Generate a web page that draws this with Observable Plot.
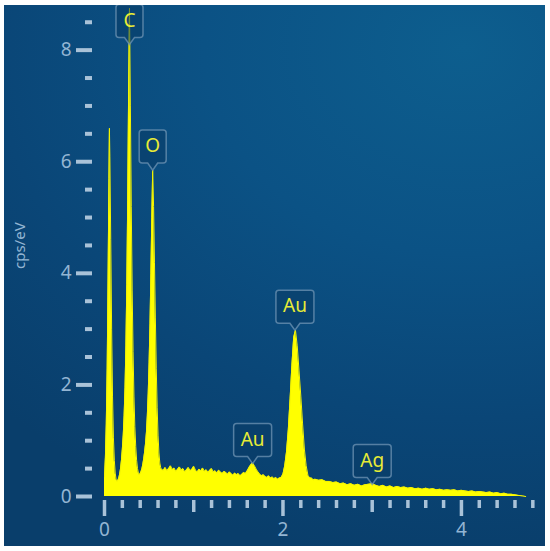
<!DOCTYPE html>
<html><head><meta charset="utf-8">
<script src="https://cdn.jsdelivr.net/npm/d3@7"></script>
<script src="https://cdn.jsdelivr.net/npm/@observablehq/plot@0.6"></script>
<style>
body{margin:0;background:#fff;}
#chart{position:absolute;left:4px;top:5px;}
</style></head><body><div id="chart"></div>
<script>
// Spectrum: energy (keV) and counts (cps/eV)
const energy = [
0,0.01,0.02,0.03,0.04,0.05,0.055,0.06,0.07,0.08,0.09,0.10,0.11,0.12,0.13,0.14,0.15,0.16,0.17,0.18,0.19,0.20,0.21,0.22,0.23,0.24,0.25,0.26,0.27,0.28,
0.29,0.30,0.31,0.32,0.33,0.34,0.35,0.36,0.37,0.38,0.39,0.40,0.41,0.42,0.43,0.44,0.45,0.46,0.47,0.48,0.49,0.50,0.51,0.52,0.53,0.54,0.55,0.56,0.57,0.58,0.59,0.60,0.61,0.62,0.63,0.64,
0.66,0.68,0.70,0.72,0.74,0.76,0.78,0.80,0.82,0.84,0.86,0.88,0.90,0.92,0.94,0.96,0.98,1.00,1.02,1.04,1.06,1.08,1.10,1.12,1.14,1.16,1.18,1.20,1.22,1.24,1.26,1.28,1.30,1.32,1.34,1.36,1.38,1.40,1.42,1.44,1.46,1.48,1.50,1.52,1.54,1.56,1.58,1.60,1.62,1.64,1.66,1.68,1.70,1.72,1.74,1.76,1.78,1.80,1.82,1.84,1.86,1.88,1.90,1.92,1.94,
1.96,1.98,2.00,2.02,2.04,2.06,2.08,2.10,2.12,2.14,2.16,2.18,2.20,2.22,2.24,2.26,2.28,2.30,
2.32,2.34,2.36,
2.40,2.44,2.48,2.52,2.56,2.60,2.64,2.68,2.72,2.76,2.80,2.84,2.88,2.92,2.96,3.00,3.04,3.08,3.12,3.16,3.20,3.24,3.28,3.32,3.36,3.40,3.44,3.48,3.52,3.56,3.60,3.64,3.68,3.72,3.76,3.80,3.84,3.88,3.92,3.96,4.00,4.04,4.08,4.12,4.16,4.20,4.24,4.28,4.32,4.36,4.40,4.44,4.48,4.52,4.56,4.60,4.64,4.68,4.72
];
const cps = [
0.35,0.7,1.3,2.3,3.9,5.7,6.6,6.1,4.6,3.0,1.8,1.05,0.65,0.42,0.31,0.27,0.29,0.33,0.4,0.5,0.65,0.85,1.1,1.45,1.95,2.7,3.8,5.3,7.2,8.75,
7.0,5.2,3.7,2.6,1.8,1.25,0.9,0.65,0.5,0.42,0.39,0.41,0.45,0.5,0.58,0.68,0.8,0.95,1.15,1.45,1.85,2.4,3.1,4.0,5.0,5.85,5.2,4.2,3.2,2.3,1.6,1.1,0.78,0.6,0.52,0.48,
0.47,0.52,0.46,0.50,0.55,0.48,0.51,0.45,0.49,0.53,0.47,0.50,0.44,0.48,0.52,0.46,0.49,0.54,0.47,0.44,0.49,0.46,0.51,0.45,0.48,0.43,0.47,0.50,0.44,0.46,0.42,0.47,0.44,0.41,0.45,0.43,0.40,0.44,0.41,0.38,0.42,0.39,0.41,0.37,0.40,0.43,0.41,0.46,0.52,0.57,0.60,0.55,0.49,0.44,0.40,0.37,0.39,0.36,0.34,0.37,0.33,0.35,0.32,0.34,0.31,
0.33,0.34,0.40,0.55,0.8,1.2,1.75,2.35,2.85,2.98,2.7,2.25,1.8,1.3,0.85,0.55,0.38,0.33,
0.33,0.30,0.31,
0.29,0.30,0.27,0.27,0.25,0.26,0.23,0.24,0.21,0.23,0.20,0.22,0.19,0.21,0.22,0.23,0.20,0.18,0.20,0.17,0.19,0.16,0.18,0.16,0.17,0.15,0.16,0.14,0.15,0.13,0.15,0.13,0.14,0.12,0.13,0.11,0.12,0.11,0.12,0.10,0.11,0.10,0.09,0.10,0.08,0.09,0.08,0.07,0.08,0.06,0.07,0.05,0.06,0.04,0.04,0.03,0.02,0.01,0.0
];

// Tick values
const xMajor = [0, 2, 4];
const xMedium = [1, 3];
const xMinor = [0.2,0.4,0.6,0.8,1.2,1.4,1.6,1.8,2.2,2.4,2.6,2.8,3.2,3.4,3.6,3.8,4.2,4.4,4.6,4.8];
const yMajor = [0, 2, 4, 6, 8];
const yMinor = [0.5,1,1.5,2.5,3,3.5,4.5,5,5.5,6.5,7,7.5,8.5];

// Peak labels
const peakLabels = ["C", "O", "Au", "Au", "Ag"];
const peakEnergy = [0.28, 0.54, 2.134, 1.66, 3.0];
const peakTip = [8.1, 5.85, 2.98, 0.59, 0.215];

const yLabel = "cps/eV";

const n = Math.min(energy.length, cps.length);
const spectrum = d3.range(n).map(i => ({E: energy[i], cps: cps[i]}));

const tickColor = "#a9c2d8";
const labelColor = "#93b5d3";
const font = "'Noto Sans', 'Open Sans', sans-serif";
const intFmt = d3.format("d");

function callout(w) {
  const h = 33, gap = 7, r = 3, pw = 5;
  return {draw(ctx) {
    const top = -gap - h, bot = -gap, l = -w / 2, rt = w / 2;
    ctx.moveTo(l + r, top);
    ctx.lineTo(rt - r, top);
    ctx.arcTo(rt, top, rt, top + r, r);
    ctx.lineTo(rt, bot - r);
    ctx.arcTo(rt, bot, rt - r, bot, r);
    ctx.lineTo(pw, bot);
    ctx.lineTo(0, 0);
    ctx.lineTo(-pw, bot);
    ctx.lineTo(l + r, bot);
    ctx.arcTo(l, bot, l, bot - r, r);
    ctx.lineTo(l, top + r);
    ctx.arcTo(l, top, l + r, top, r);
    ctx.closePath();
  }};
}

const idx = d3.range(peakLabels.length);
const idxShort = idx.filter(i => peakLabels[i].length === 1);
const idxLong = idx.filter(i => peakLabels[i].length > 1);
const boxStyle = {
  x: i => peakEnergy[i], y: i => peakTip[i], r: 5,
  fill: "#0a3c66", fillOpacity: 0.55, stroke: "#6f94b4", strokeOpacity: 0.75, strokeWidth: 1.5
};

const plot = Plot.plot({
  width: 541, height: 541,
  marginLeft: 100, marginRight: 10, marginTop: 0, marginBottom: 50,
  style: {
    background: "radial-gradient(ellipse 120% 95% at 85% 8%, #0d5e8e 0%, #0b5285 40%, #0a4677 72%, #093e6b 100%)",
    fontFamily: font,
    color: labelColor
  },
  x: {domain: [0, 4.83]},
  y: {domain: [0, 8.8]},
  marks: [
    Plot.areaY(spectrum, {x: "E", y: "cps", fill: "#ffff00"}),
    Plot.lineY(spectrum, {x: "E", y: "cps", stroke: "#f4f400", strokeWidth: 1}),
    Plot.axisY(yMinor, {tickSize: 7, dx: -12, stroke: tickColor, strokeWidth: 4, tickFormat: () => "", label: null}),
    Plot.axisY(yMajor, {tickSize: 16, dx: -12, tickPadding: 5, stroke: tickColor, fill: labelColor, strokeWidth: 4, fontSize: 19, tickFormat: intFmt, label: null}),
    Plot.axisX(xMinor, {tickSize: 8, dy: 4, stroke: tickColor, strokeWidth: 3.5, tickFormat: () => "", label: null}),
    Plot.axisX(xMedium, {tickSize: 12, dy: 4, stroke: tickColor, strokeWidth: 3.5, tickFormat: () => "", label: null}),
    Plot.axisX(xMajor, {tickSize: 16, dy: 4, tickPadding: 6, stroke: tickColor, fill: labelColor, strokeWidth: 3.5, fontSize: 19, tickFormat: intFmt, label: null}),
    Plot.text([yLabel], {frameAnchor: "left", rotate: -90, dx: -84, dy: 18, fill: labelColor, fontSize: 15}),
    Plot.dot(idxShort, {...boxStyle, symbol: callout(27)}),
    Plot.dot(idxLong, {...boxStyle, symbol: callout(38)}),
    Plot.text(idx, {x: i => peakEnergy[i], y: i => peakTip[i], text: i => peakLabels[i], dy: -24, fill: "#e8ec35", fontSize: 19})
  ]
});
document.getElementById("chart").append(plot);
</script>
</body></html>
